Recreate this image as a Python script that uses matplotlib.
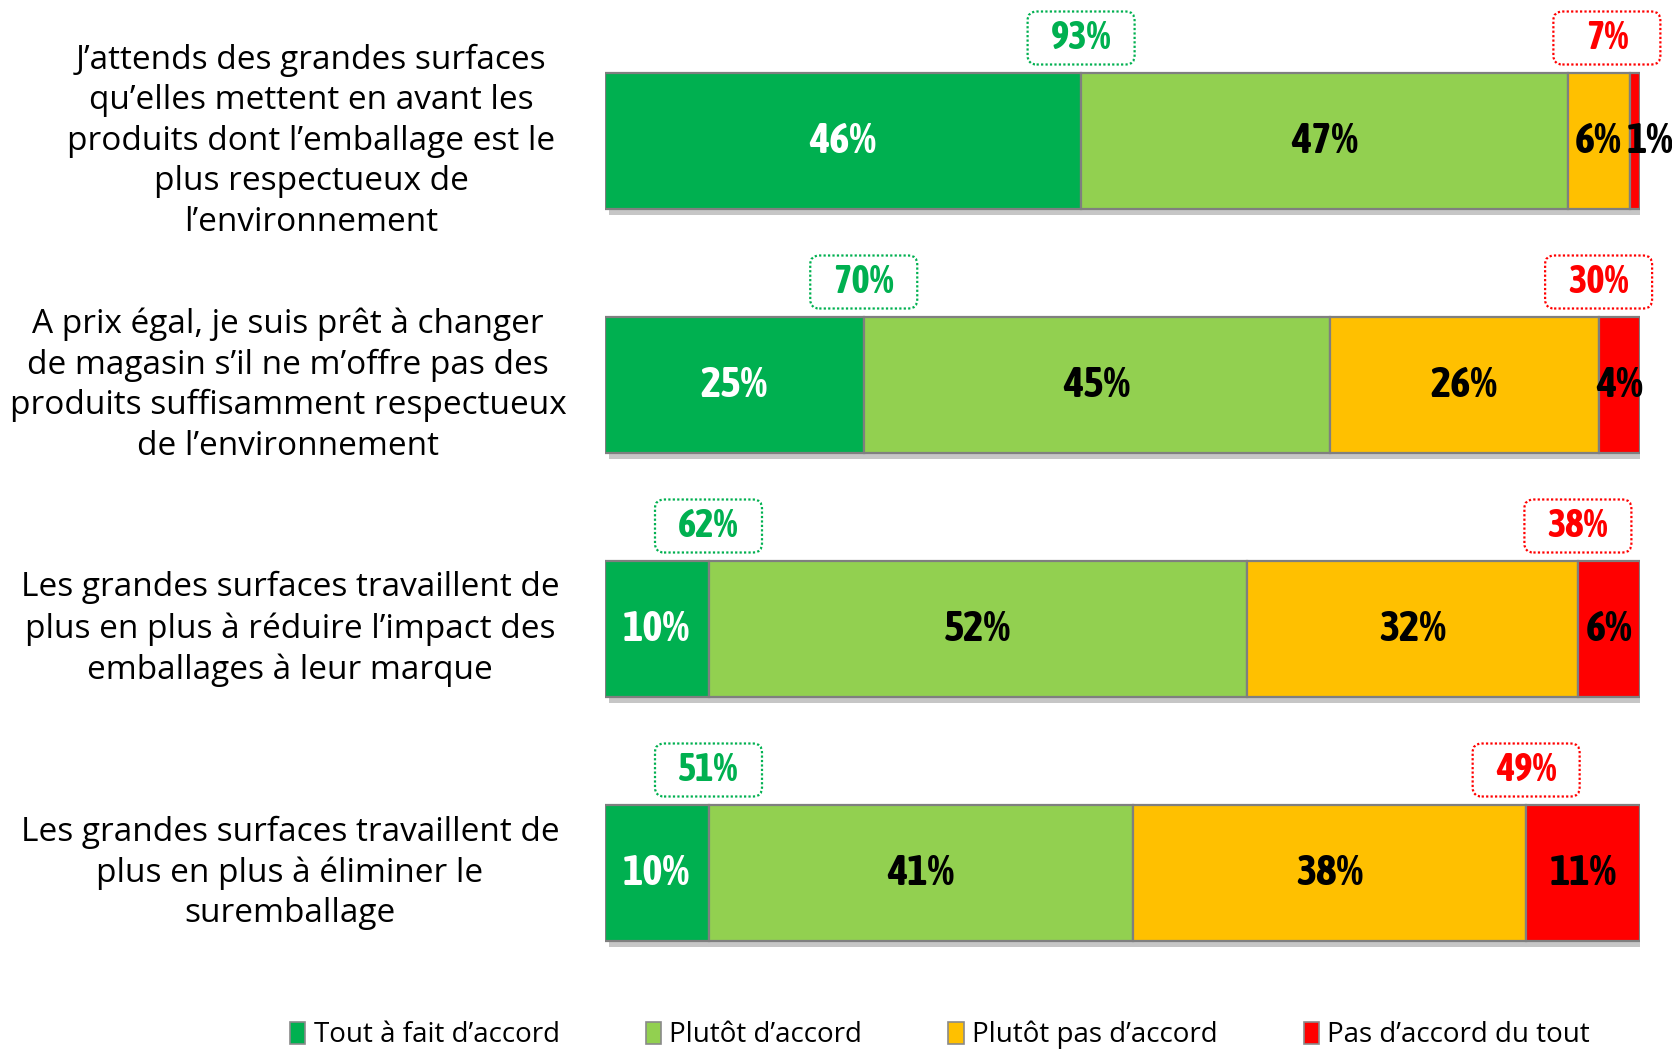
import matplotlib
matplotlib.use("Agg")
import matplotlib.pyplot as plt
import matplotlib.transforms as mtransforms
from matplotlib.patches import FancyBboxPatch, Patch
import matplotlib.patheffects as pe

# ---- data ----
statements = [
    "J\u2019attends des grandes surfaces\nqu\u2019elles mettent en avant les\nproduits dont l\u2019emballage est le\nplus respectueux de\nl\u2019environnement",
    "A prix égal, je suis prêt à changer\nde magasin s\u2019il ne m\u2019offre pas des\nproduits suffisamment respectueux\nde l\u2019environnement",
    "Les grandes surfaces travaillent de\nplus en plus à réduire l\u2019impact des\nemballages à leur marque",
    "Les grandes surfaces travaillent de\nplus en plus à éliminer le\nsuremballage",
]
categories = ["Tout à fait d\u2019accord", "Plutôt d\u2019accord", "Plutôt pas d\u2019accord", "Pas d\u2019accord du tout"]
tout_fait = [46, 25, 10, 10]
plutot = [47, 45, 52, 41]
plutot_pas = [6, 26, 32, 38]
pas_du_tout = [1, 4, 6, 11]
total_accord = [93, 70, 62, 51]
total_desaccord = [7, 30, 38, 49]

colors = ["#00B050", "#92D050", "#FFC000", "#FF0000"]
text_colors = ["white", "black", "black", "black"]

W, H, DPI = 16.72, 10.5, 100
fig = plt.figure(figsize=(W, H), dpi=DPI)
fig.patch.set_facecolor("white")

ax_left, ax_right = 605, 1640
ax = fig.add_axes([ax_left / 1672, 0, (ax_right - ax_left) / 1672, 1])
ax.set_xlim(0, 100)
spacing = 244.0
first_center = 141.0
ax.set_ylim((1050 - first_center) / spacing, -first_center / spacing)
ax.axis("off")

bar_h = 136 / spacing
series = [tout_fait, plutot, plutot_pas, pas_du_tout]
ys = list(range(len(statements)))
num_font = ["Asap Condensed", "DejaVu Sans"]
lab_font = ["Open Sans", "DejaVu Sans"]
left = [0] * len(ys)
for si, vals in enumerate(series):
    bars = ax.barh(ys, vals, left=left, height=bar_h, color=colors[si],
                   edgecolor="#7F7F7F", linewidth=1.6, zorder=2)
    for b in bars:
        b.set_path_effects([pe.SimplePatchShadow(offset=(3, -4), shadow_rgbFace="#a0a0a0", alpha=0.6), pe.Normal()])
    for y, v, l in zip(ys, vals, left):
        if v < 3:
            x, ha = l - 0.3, "left"
        else:
            x, ha = l + v / 2, "center"
        ax.text(x, y, f"{v}%", ha=ha, va="center",
                color=text_colors[si], fontsize=31, fontweight="bold",
                family=num_font, zorder=5)
    left = [a + b for a, b in zip(left, vals)]

# summary boxes
box_w, box_h = 107, 53
box_off = 35 / spacing
max_center = 96.8
for y, ta, td, tf, pd_ in zip(ys, total_accord, total_desaccord, tout_fait, pas_du_tout):
    ybox = y - bar_h / 2 - box_off
    for xc, val, col in [(tf, ta, "#00B050"), (min(100 - pd_, max_center), td, "#FF0000")]:
        tr = mtransforms.IdentityTransform() + mtransforms.ScaledTranslation(xc, ybox, ax.transData)
        patch = FancyBboxPatch((-box_w / 2, -box_h / 2), box_w, box_h,
                               boxstyle="round,pad=0,rounding_size=9",
                               transform=tr, facecolor="white", edgecolor=col,
                               linestyle=(0, (1, 1)), linewidth=1.6, clip_on=False, zorder=6)
        ax.add_patch(patch)
        ax.text(xc, ybox, f"{val}%", ha="center", va="center", color=col,
                fontsize=28, fontweight="bold", family=num_font, zorder=7)

# statement labels
label_x = [311, 288, 290, 290]
blend = mtransforms.blended_transform_factory(fig.transFigure, ax.transData)
for y, s, lx in zip(ys, statements, label_x):
    ax.text(lx / 1672, y, s, transform=blend, ha="center", va="center",
            fontsize=24, family=lab_font, linespacing=1.3, clip_on=False)

handles = [Patch(facecolor=c, edgecolor="#8a8a8a", linewidth=1.2) for c in colors]
fig.legend(handles, categories, loc="center", bbox_to_anchor=(940 / 1672, 1 - 1035 / 1050),
           ncol=4, frameon=False, handlelength=0.55, handleheight=0.85,
           handletextpad=0.3, columnspacing=3.1,
           prop={"family": lab_font, "size": 20})

fig.savefig("out.png", dpi=DPI, facecolor="white")
